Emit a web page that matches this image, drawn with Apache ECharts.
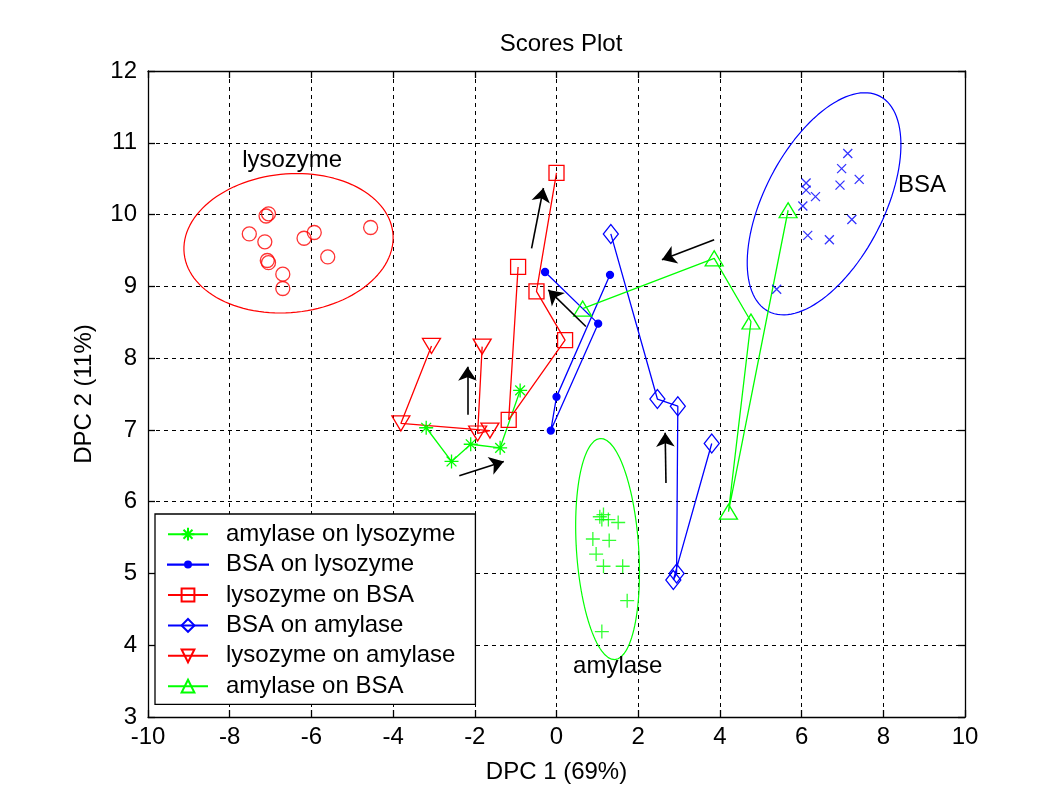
<!DOCTYPE html>
<html>
<head>
<meta charset="utf-8">
<script src="https://cdn.jsdelivr.net/npm/echarts@6/dist/echarts.min.js"></script>
<style>
html,body{margin:0;padding:0;background:#fff;}
#chart{width:1052px;height:793px;}
</style>
</head>
<body>
<div id="chart"></div>
<script>
// ---- data ----
const seriesNames = ['amylase on lysozyme','BSA on lysozyme','lysozyme on BSA','BSA on amylase','lysozyme on amylase','amylase on BSA'];
const amylaseOnLysozyme = [[-3.19,7.03],[-2.57,6.56],[-2.10,6.80],[-1.38,6.75],[-0.89,7.55]];
const bsaOnLysozyme = [[-0.28,9.20],[1.02,8.48],[-0.14,6.99],[0.00,7.46],[1.31,9.16]];
const lysozymeOnBSA = [[-0.94,9.27],[-1.17,7.14],[0.21,8.25],[-0.49,8.93],[0.00,10.58]];
const bsaOnAmylase = [[1.33,9.73],[2.47,7.43],[2.97,7.33],[2.94,5.00],[2.86,4.91],[3.80,6.81]];
const lysozymeOnAmylase = [[-3.06,8.17],[-3.81,7.09],[-1.63,6.99],[-1.93,6.95],[-1.82,8.16]];
const amylaseOnBSA = [[0.64,8.69],[3.86,9.39],[4.76,8.51],[4.21,5.86],[5.67,10.06]];

const lysozymeCluster = [[-7.11,9.98],[-7.05,10.01],[-7.52,9.73],[-7.14,9.62],[-7.08,9.36],[-7.05,9.33],[-6.70,9.17],[-6.70,8.97],[-6.18,9.67],[-5.93,9.75],[-5.60,9.41],[-4.55,9.82]];
const bsaCluster = [[7.13,10.85],[6.98,10.64],[7.41,10.49],[6.94,10.41],[6.11,10.44],[6.11,10.34],[6.34,10.25],[6.03,10.12],[7.23,9.93],[6.15,9.71],[6.68,9.65],[5.39,8.96]];
const amylaseCluster = [[1.06,5.79],[1.15,5.82],[1.11,5.75],[1.27,5.75],[1.51,5.71],[0.89,5.48],[1.29,5.46],[0.97,5.27],[1.15,5.10],[1.62,5.10],[1.73,4.62],[1.11,4.19]];

// ellipse parameters: centre, first semi-axis vector, second semi-axis vector (data units)
const lysozymeEllipse = [[-6.56,9.60],[2.56,0.05],[0.07,0.97]];
const bsaEllipse = [[6.55,10.15],[1.36,1.50],[1.30,-0.38]];
const amylaseEllipse = [[1.25,5.34],[-0.18,1.54],[0.76,0.03]];

const arrows = [
  [[-0.61,9.53],[-0.32,10.37]],
  [[-2.18,7.21],[-2.18,7.88]],
  [[-2.38,6.36],[-1.29,6.56]],
  [[0.72,8.44],[-0.20,8.95]],
  [[3.86,9.65],[2.58,9.37]],
  [[2.68,6.26],[2.66,6.96]]
];
const clusterLabels = [['lysozyme',-6.47,10.76],['BSA',8.95,10.41],['amylase',1.50,3.70]];

const xTicks = {min:-10,max:10,interval:2};
const yTicks = {min:3,max:12,interval:1};

// ---- build ----
const GREEN = '#00ff00', BLUE = '#0000ff', RED = '#ff0000';
const FONT = '"Liberation Sans", Arial, Helvetica, sans-serif';
const FS = 24;
const STAR = 'path://M0,5L10,5M5,0L5,10M1.5,1.5L8.5,8.5M8.5,1.5L1.5,8.5';
const PLUS = 'path://M0,5L10,5M5,0L5,10';
const CROSS = 'path://M0,0L10,10M10,0L0,10';
const DOT_LEGEND = 'path://M0,0M40,16M0,7.8L40,7.8L40,8.2L0,8.2ZM17,8A3,3 0 1 1 23,8A3,3 0 1 1 17,8Z';

function ellipsePts(e){
  const pts=[]; const n=120;
  for(let i=0;i<=n;i++){
    const t=2*Math.PI*i/n;
    pts.push([e[0][0]+Math.cos(t)*e[1][0]+Math.sin(t)*e[2][0], e[0][1]+Math.cos(t)*e[1][1]+Math.sin(t)*e[2][1]]);
  }
  return pts;
}

function traj(name,data,color,symbol,size,hollow,rotate){
  return {
    name:name, type:'line', data:data, symbol:symbol, symbolSize:size, symbolRotate:rotate||0,
    showSymbol:true, z:3,
    lineStyle:{color:color,width:1.3},
    itemStyle:{color: hollow ? 'rgba(255,255,255,0)' : color, borderColor:color, borderWidth:1.3},
    emphasis:{disabled:true}, animation:false
  };
}
function cluster(data,color,symbol,size){
  return {type:'scatter', data:data, symbol:symbol, symbolSize:size, z:3,
    itemStyle:{color:'rgba(255,255,255,0)', borderColor:color, borderWidth:1.3},
    emphasis:{disabled:true}, animation:false};
}
function ell(e,color){
  return {type:'line', data:ellipsePts(e), showSymbol:false, symbol:'none', z:2,
    lineStyle:{color:color,width:1.2}, emphasis:{disabled:true}, animation:false};
}

const axisCommon = {
  axisLine:{show:true,onZero:false,lineStyle:{color:'#000',width:1.3}},
  axisTick:{show:true,inside:true,length:7,lineStyle:{color:'#000',width:1.3}},
};

const legendData = seriesNames.map((n,i)=> i===1 ? {name:n, icon:DOT_LEGEND} : {name:n});

const option = {
  backgroundColor:'#fff',
  animation:false,
  textStyle:{fontFamily:FONT},
  title:{text:'Scores Plot', left:556, top:27, textAlign:'center',
    textStyle:{fontFamily:FONT,fontSize:FS,fontWeight:'normal',color:'#000'}},
  grid:{left:148,right:87,top:71,bottom:76,containLabel:false},
  legend:{
    data:legendData, orient:'vertical', left:155, top:514,
    backgroundColor:'#fff', borderColor:'#000', borderWidth:1.3,
    padding:[8,20,6,12], itemGap:6, itemWidth:40, itemHeight:16,
    textStyle:{fontFamily:FONT,fontSize:FS,color:'#000',lineHeight:24.4,padding:[0,0,0,13]},
    selectedMode:false
  },
  xAxis:[
    Object.assign({type:'value',min:xTicks.min,max:xTicks.max,interval:xTicks.interval,position:'bottom',
      name:'DPC 1 (69%)',nameLocation:'middle',nameGap:43,
      nameTextStyle:{fontFamily:FONT,fontSize:FS,color:'#000'},
      axisLabel:{color:'#000',fontFamily:FONT,fontSize:FS,margin:8},
      splitLine:{show:true,lineStyle:{color:'#000',type:[4,4],width:1}}},axisCommon),
    Object.assign({type:'value',min:xTicks.min,max:xTicks.max,interval:xTicks.interval,position:'top',
      axisLabel:{show:false},splitLine:{show:false}},axisCommon)
  ],
  yAxis:[
    Object.assign({type:'value',min:yTicks.min,max:yTicks.max,interval:yTicks.interval,position:'left',
      name:'DPC 2 (11%)',nameLocation:'middle',nameGap:52,nameRotate:90,
      nameTextStyle:{fontFamily:FONT,fontSize:FS,color:'#000'},
      axisLabel:{color:'#000',fontFamily:FONT,fontSize:FS,margin:11},
      splitLine:{show:true,lineStyle:{color:'#000',type:[4,4],width:1}}},axisCommon),
    Object.assign({type:'value',min:yTicks.min,max:yTicks.max,interval:yTicks.interval,position:'right',
      axisLabel:{show:false},splitLine:{show:false}},axisCommon)
  ],
  series:[
    ell(lysozymeEllipse,RED), ell(bsaEllipse,BLUE), ell(amylaseEllipse,GREEN),
    cluster(lysozymeCluster,RED,'circle',14),
    cluster(bsaCluster,BLUE,CROSS,9),
    cluster(amylaseCluster,GREEN,PLUS,14),
    traj(seriesNames[0],amylaseOnLysozyme,GREEN,STAR,14,true),
    traj(seriesNames[1],bsaOnLysozyme,BLUE,'circle',7,false),
    traj(seriesNames[2],lysozymeOnBSA,RED,'rect',15,true),
    traj(seriesNames[3],bsaOnAmylase,BLUE,'diamond',[15,19],true),
    traj(seriesNames[4],lysozymeOnAmylase,RED,'triangle',[18,15],true,180),
    traj(seriesNames[5],amylaseOnBSA,GREEN,'triangle',[18,15],true),
    {type:'lines', coordinateSystem:'cartesian2d', z:4, symbol:['none','arrow'], symbolSize:14,
      lineStyle:{color:'#000',width:1.6,opacity:1},
      data:arrows.map(a=>({coords:a})), emphasis:{disabled:true}, animation:false},
    {type:'scatter', symbolSize:0, z:5, silent:true,
      data:clusterLabels.map(l=>({name:l[0],value:[l[1],l[2]]})),
      label:{show:true,position:[0,0],align:'center',verticalAlign:'middle',formatter:'{b}',
        color:'#000',opacity:1,fontFamily:FONT,fontSize:FS},
      emphasis:{disabled:true}, animation:false}
  ]
};
const chart = echarts.init(document.getElementById('chart'),null,{renderer:'canvas'});
chart.setOption(option);
</script>
</body>
</html>
